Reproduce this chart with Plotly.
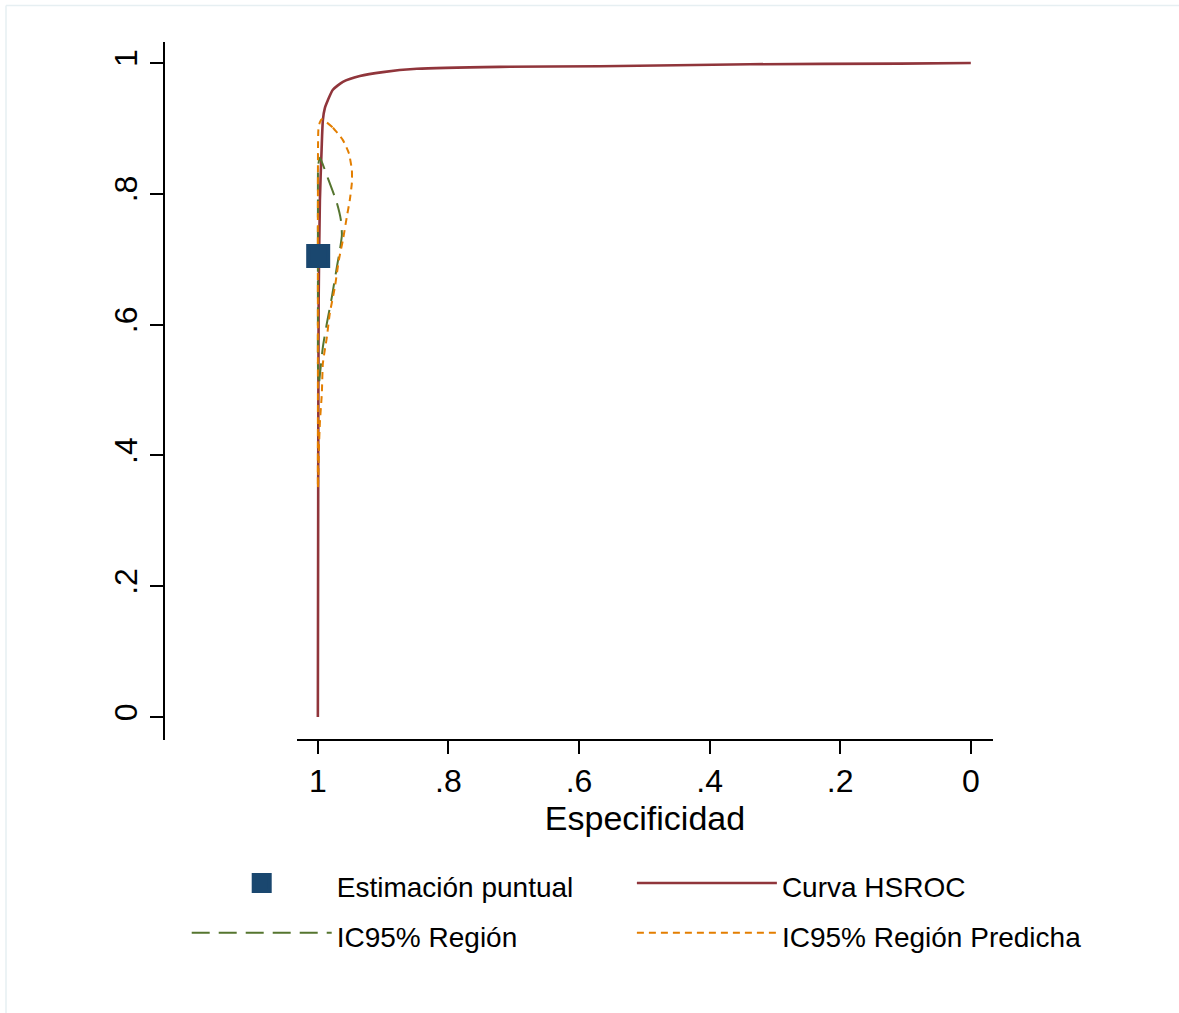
import plotly.graph_objects as go

# ---------------- data ----------------
# HSROC summary curve (specificity, sensitivity)
hsroc_spec = [1.0, 0.9995, 0.9988, 0.9969, 0.9943, 0.9923, 0.9893, 0.9847, 0.9770,
              0.9617, 0.9357, 0.9005, 0.8484, 0.7213, 0.5681, 0.3384, 0.1087, 0.0]
hsroc_sens = [0.0, 0.332, 0.638, 0.790, 0.867, 0.913, 0.931, 0.943, 0.959,
              0.971, 0.980, 0.986, 0.991, 0.994, 0.995, 0.998, 0.999, 1.0]

# Summary point estimate
point_spec = [0.9995]
point_sens = [0.705]

# 95% confidence region
ci_spec = [0.9969, 0.9847, 0.9709, 0.9648, 0.9632, 0.9663, 0.9709, 0.9786, 0.9862,
           0.9923, 0.9969, 0.9985, 0.9998, 0.9999, 0.9999, 0.9995, 0.9969]
ci_sens = [0.855, 0.824, 0.786, 0.760, 0.737, 0.714, 0.688, 0.642, 0.602,
           0.566, 0.523, 0.508, 0.531, 0.638, 0.790, 0.844, 0.855]

# 95% prediction region
pr_spec = [0.9939, 0.9770, 0.9617, 0.9525, 0.9479, 0.9479, 0.9510, 0.9556, 0.9617,
           0.9678, 0.9740, 0.9816, 0.9862, 0.9923, 0.9939, 0.9969, 0.9985, 0.9992,
           0.99995, 0.99995, 0.99995, 0.9992, 0.9970, 0.9939]
pr_sens = [0.914, 0.901, 0.882, 0.862, 0.836, 0.817, 0.791, 0.765, 0.729,
           0.699, 0.657, 0.618, 0.581, 0.541, 0.495, 0.450, 0.408, 0.370,
           0.350, 0.485, 0.790, 0.898, 0.909, 0.914]

tick_vals = [0, 0.2, 0.4, 0.6, 0.8, 1]
tick_text = ["0", ".2", ".4", ".6", ".8", "1"]

names = ["Estimación puntual", "Curva HSROC", "IC95% Región", "IC95% Región Predicha"]

# ---------------- figure ----------------
NAVY = "#1a476f"
MAROON = "#90353b"
GREEN = "#55752f"
ORANGE = "#e37e00"
FONT = "Liberation Sans, Arial, sans-serif"

def lg(name):
    return '<span style="font-size:28px">' + name + '</span>'

fig = go.Figure()

fig.add_trace(go.Scatter(
    x=hsroc_spec, y=hsroc_sens, mode="lines", name=lg(names[1]),
    legend="legend2", legendrank=1,
    line=dict(color=MAROON, width=2.6, shape="spline", smoothing=0.6),
))
fig.add_trace(go.Scatter(
    x=ci_spec, y=ci_sens, mode="lines", name=lg(names[2]),
    legend="legend", legendrank=2,
    line=dict(color=GREEN, width=2, dash="18px,9px", shape="spline", smoothing=0.5),
))
fig.add_trace(go.Scatter(
    x=pr_spec, y=pr_sens, mode="lines", name=lg(names[3]),
    legend="legend2", legendrank=2,
    line=dict(color=ORANGE, width=2, dash="7px,5px", shape="spline", smoothing=0.5),
))
fig.add_trace(go.Scatter(
    x=point_spec, y=point_sens, mode="markers", name=lg(names[0]),
    legend="legend", legendrank=1,
    marker=dict(symbol="square", size=20, color=NAVY, line=dict(width=4, color=NAVY)),
))

axis_common = dict(
    showgrid=False, zeroline=False, showline=True, linecolor="black", linewidth=2,
    ticks="outside", ticklen=13, tickwidth=2, tickcolor="black",
    tickvals=tick_vals, ticktext=tick_text,
    tickfont=dict(family=FONT, size=32, color="black"),
)

legend_common = dict(
    orientation="v", xanchor="left", y=-0.162, yanchor="top",
    itemwidth=140, indentation=31, traceorder="normal", tracegroupgap=0,
    font=dict(family=FONT, size=36, color="black"),
    bgcolor="rgba(0,0,0,0)", itemsizing="trace",
)

fig.update_layout(
    width=1179, height=1013,
    paper_bgcolor="white", plot_bgcolor="white",
    margin=dict(l=164, r=186, t=42, b=273, autoexpand=False),
    xaxis=dict(**axis_common, range=[1.032, -0.034], domain=[0.1604, 1.0],
               anchor="free", position=0.0,
               title=dict(text="Especificidad", font=dict(family=FONT, size=34, color="black"),
                          standoff=1)),
    yaxis=dict(**axis_common, range=[-0.035, 1.032], domain=[0.0, 1.0],
               anchor="free", position=0.0, tickangle=-90),
    showlegend=True,
    legend=dict(**legend_common, x=-0.01),
    legend2=dict(**legend_common, x=0.527),
    shapes=[
        dict(type="line", xref="paper", yref="paper", x0=-0.1906, x1=1.23, y0=1.0523, y1=1.0523,
             line=dict(color="#e6eff2", width=1.5)),
        dict(type="line", xref="paper", yref="paper", x0=-0.1906, x1=-0.1906, y0=1.0523, y1=-0.40,
             line=dict(color="#e6eff2", width=1.5)),
    ],
)

fig.write_html("out.html", config={"displayModeBar": False},
               post_script="document.body.style.margin='0px';")
